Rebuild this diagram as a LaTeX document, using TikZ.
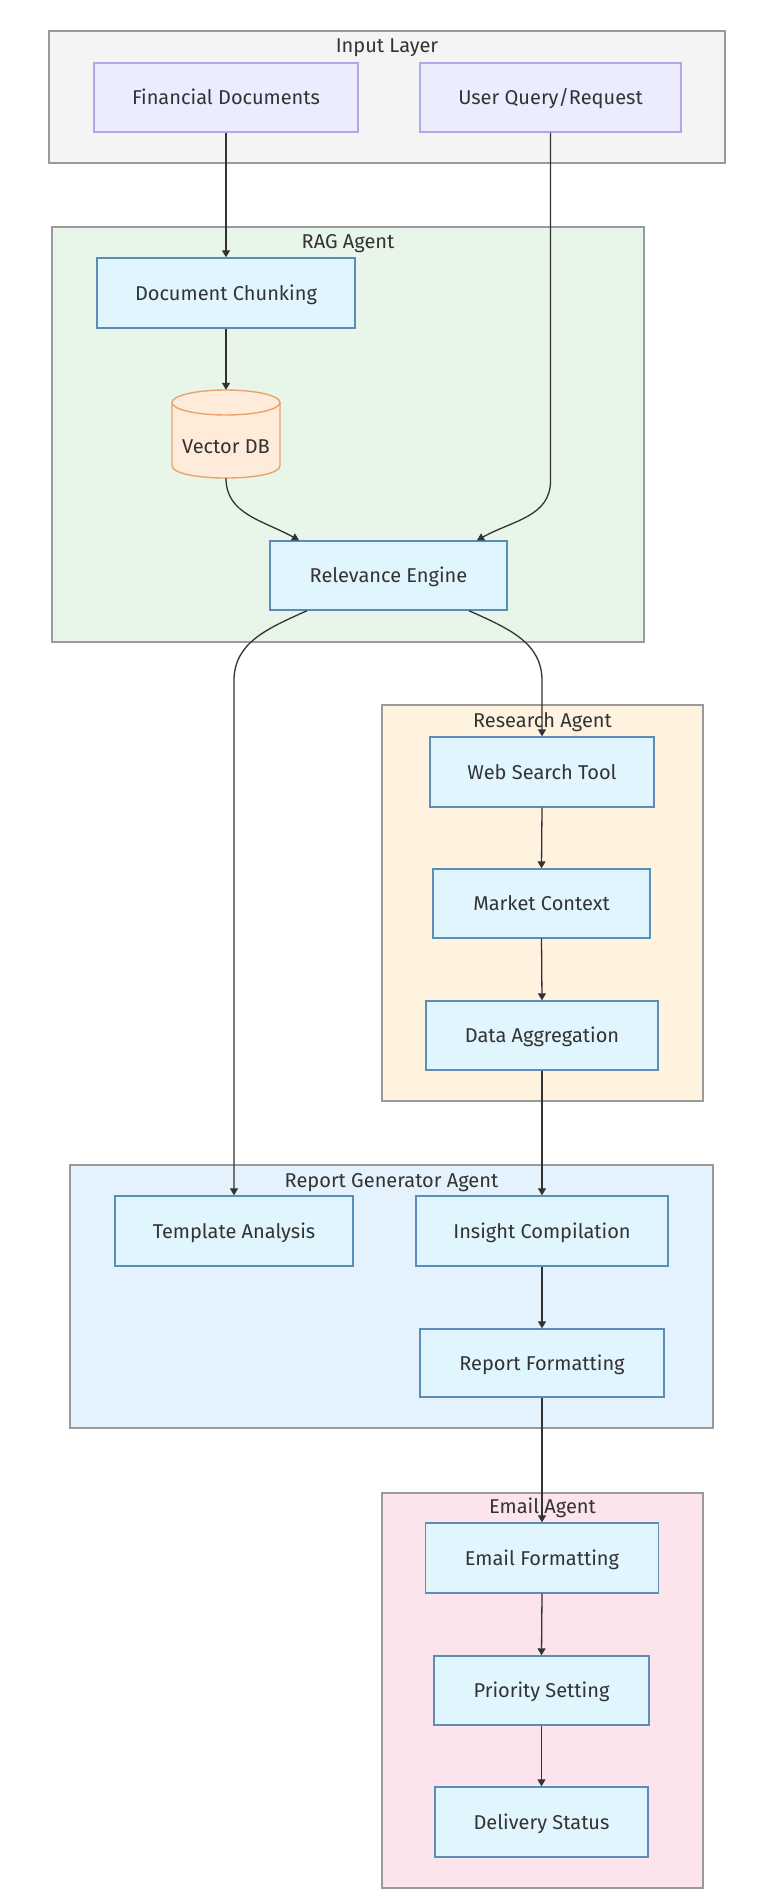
\documentclass[tikz,border=0pt]{standalone}
\usepackage{fontspec}
\setmainfont{Fira Sans}
\usetikzlibrary{arrows.meta,calc}
\definecolor{txt}{HTML}{333333}
\definecolor{clline}{HTML}{9A9A9A}
\definecolor{inputfill}{HTML}{F4F4F4}
\definecolor{purplefill}{HTML}{ECECFF}
\definecolor{purpleline}{HTML}{B3A7EA}
\definecolor{bluefill}{HTML}{E1F5FE}
\definecolor{blueline}{HTML}{5B8DB5}
\definecolor{dbfill}{HTML}{FEEBDA}
\definecolor{dbline}{HTML}{E9A36B}
\definecolor{ragfill}{HTML}{E8F5E9}
\definecolor{resfill}{HTML}{FFF3E0}
\definecolor{repfill}{HTML}{E3F2FD}
\definecolor{emailfill}{HTML}{FCE4EC}
\definecolor{edgecol}{HTML}{333333}
\begin{document}
\begin{tikzpicture}[x=1pt,y=-1pt,
  every node/.style={font=\fontsize{20}{24}\selectfont, text=txt},
  cluster/.style={draw=clline, line width=1.8pt},
  clabel/.style={anchor=base, inner sep=0pt},
  inbox/.style={draw=purpleline, fill=purplefill, line width=1.4pt, minimum height=69pt, text height=14pt, text depth=0pt, inner sep=0pt},
  procbox/.style={draw=blueline, fill=bluefill, line width=1.4pt, minimum height=69pt, text height=14pt, text depth=0pt, inner sep=0pt},
  edge/.style={draw=edgecol, line width=1.3pt, -{Triangle[width=8pt,length=7pt]}}
]
\useasboundingbox (0,0) rectangle (773,1894);
\fill[white] (0,0) rectangle (773,1894);

% clusters
\draw[cluster, fill=inputfill] (49,31) rectangle (725,163);
\node[clabel] (linput) at (387,53) {Input Layer};
\draw[cluster, fill=ragfill] (52,227) rectangle (644,642);
\node[clabel] (lrag) at (348,248) {RAG Agent};
\draw[cluster, fill=resfill] (382,705) rectangle (703,1101);
\node[clabel] (lres) at (542.5,727) {Research Agent};
\draw[cluster, fill=repfill] (70,1165) rectangle (713,1428);
\node[clabel] (lrep) at (391.5,1187) {Report Generator Agent};
\draw[cluster, fill=emailfill] (382,1493) rectangle (703,1888);
\node[clabel] (lemail) at (542.5,1513) {Email Agent};

% nodes
\node[inbox, minimum width=264pt] (fd) at (226,97.5) {Financial Documents};
\node[inbox, minimum width=261pt] (uq) at (550.5,97.5) {User Query/Request};
\node[procbox, minimum width=258pt, minimum height=70pt] (dc) at (226,293) {Document Chunking};

% vector db cylinder
\fill[dbfill] (172,402.5) -- (172,465.5) .. controls (172,482.2) and (280,482.2) .. (280,465.5) -- (280,402.5) -- cycle;
\draw[dbline, line width=1.4pt] (172,402.5) -- (172,465.5) .. controls (172,482.2) and (280,482.2) .. (280,465.5) -- (280,402.5);
\draw[dbline, line width=1.4pt, fill=dbfill] (226,402.5) ellipse [x radius=54, y radius=12.5];
\node[draw=none, minimum width=108pt, minimum height=88pt, inner sep=0pt,
      label={[font=\fontsize{20}{24}\selectfont, text=txt, yshift=-12pt, text height=14pt, text depth=0pt]center:Vector DB}] (vdb) at (226,434) {};

\node[procbox, minimum width=237pt] (re) at (388.5,575.5) {Relevance Engine};
\node[procbox, minimum width=224pt, minimum height=70pt] (wst) at (542,772) {Web Search Tool};
\node[procbox, minimum width=217pt] (mc) at (541.5,903.5) {Market Context};
\node[procbox, minimum width=232pt] (da) at (542,1035.5) {Data Aggregation};
\node[procbox, minimum width=238pt, minimum height=70pt] (ta) at (234,1231) {Template Analysis};
\node[procbox, minimum width=252pt, minimum height=70pt] (ic) at (542,1231) {Insight Compilation};
\node[procbox, minimum width=244pt, minimum height=68pt] (rf) at (542,1363) {Report Formatting};
\node[procbox, minimum width=233pt, minimum height=70pt] (ef) at (542,1558) {Email Formatting};
\node[procbox, minimum width=215pt] (ps) at (541.5,1690.5) {Priority Setting};
\node[procbox, minimum width=213pt, minimum height=70pt] (ds) at (541.5,1822) {Delivery Status};

% helper coordinates
\coordinate (uqbend) at ($(uq.south)+(0,348)$);
\coordinate (tabend) at ($(ta.north |- re.south)+(0,70)$);
\coordinate (wstbend) at ($(wst.north |- re.south)+(0,70)$);

% edges
\draw[edge] (fd.south) -- (dc.north);
\draw[edge] (dc.south) -- (vdb.north);
\draw[edge] (vdb.south) .. controls +(0,36) and +(-36,-20) .. ([xshift=-89.5pt]re.north);
\draw[edge] (uq.south) -- (uqbend) .. controls +(0,36) and +(36,-20) .. ([xshift=88.5pt]re.north);
\draw[edge] ([xshift=-81.5pt]re.south) .. controls +(-40,18) and +(0,-38) .. (tabend) -- (ta.north);
\draw[edge] ([xshift=80.5pt]re.south) .. controls +(40,18) and +(0,-38) .. (wstbend) -- (wst.north);
\draw[edge] (wst.south) -- (mc.north);
\draw[edge] (mc.south) -- (da.north);
\draw[edge] (da.south) -- (ic.north);
\draw[edge] (ic.south) -- (rf.north);
\draw[edge] (rf.south) -- (ef.north);
\draw[edge] (ef.south) -- (ps.north);
\draw[edge] (ps.south) -- (ds.north);
\end{tikzpicture}
\end{document}
